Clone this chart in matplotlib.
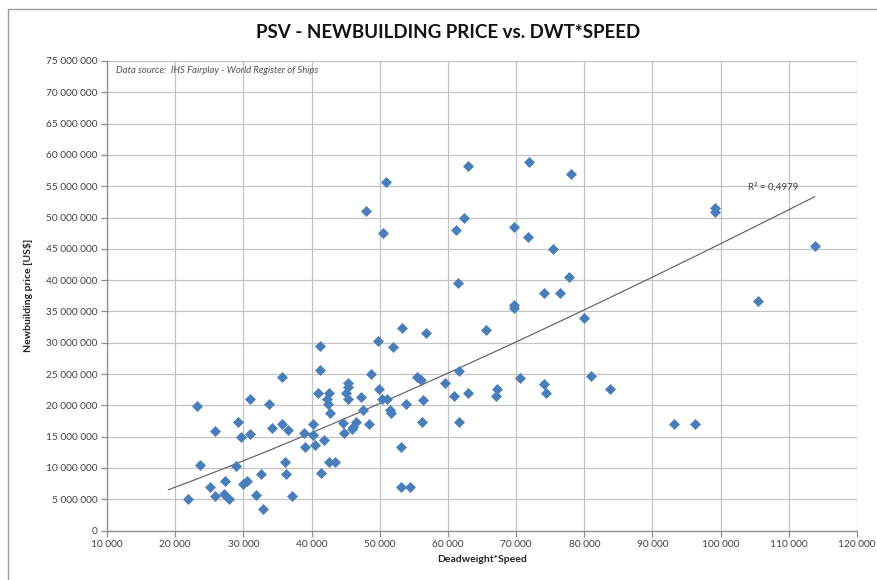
import numpy as np
import matplotlib
matplotlib.use("Agg")
import matplotlib.pyplot as plt
from matplotlib.ticker import FuncFormatter, MultipleLocator
from matplotlib.patches import Rectangle

# ---- data ----
dwt_speed = [
    23150, 23640, 21920, 25100, 25840, 25840, 27150, 27300, 27930, 28870,
    29250, 29650, 29990, 30480, 30970, 30970, 31800, 32540, 32920, 33750,
    34240, 35610, 35700, 36100, 36250, 36590, 37080, 38880, 39030, 40150,
    40230, 40500, 40990, 41230, 41230, 41330, 41850, 42210, 42550, 42450,
    42550, 42700, 43430, 44650, 44780, 44990, 45290, 45380, 45380, 45970,
    46150, 46450, 47240, 47580, 48460, 48660, 49780, 49930, 50280, 51100,
    51500, 51600, 51980, 53110, 53060, 53300, 53840, 54430, 55410, 55990,
    56140, 56380, 56780, 59560, 60930, 61660, 61660, 62980, 65570, 67040,
    67230, 62980, 50910, 47940, 62390, 61170, 50510, 61420, 71920, 78080,
    99150, 99150, 113800, 69680, 71690, 75440, 77790, 74070, 76410, 69680,
    69680, 105500, 80000, 70600, 80980, 74070, 74370, 83750, 93200, 96220,
]
price_musd = [
    19.9, 10.5, 5.0, 6.9, 5.5, 15.9, 5.8, 7.95, 5.0, 10.3,
    17.4, 15.0, 7.4, 7.95, 21.0, 15.4, 5.67, 9.0, 3.5, 20.2,
    16.4, 24.5, 17.0, 11.0, 9.0, 16.05, 5.56, 15.5, 13.4, 17.0,
    15.25, 13.65, 21.9, 29.4, 25.6, 9.2, 14.45, 21.0, 22.0, 20.2,
    10.9, 18.7, 11.0, 17.2, 15.5, 22.0, 23.5, 23.0, 21.0, 16.2,
    16.6, 17.3, 21.4, 19.25, 17.0, 25.0, 30.3, 22.6, 21.0, 21.0,
    19.25, 18.7, 29.3, 13.4, 7.0, 32.4, 20.2, 7.0, 24.5, 24.0,
    17.4, 20.85, 31.5, 23.5, 21.5, 25.5, 17.4, 22.0, 32.0, 21.5,
    22.6, 58.3, 55.6, 51.0, 50.0, 48.0, 47.6, 39.5, 58.9, 56.9,
    51.5, 50.9, 45.5, 48.5, 46.9, 45.0, 40.5, 38.0, 37.9, 36.0,
    35.5, 36.7, 33.9, 24.4, 24.7, 23.4, 21.9, 22.6, 17.0, 17.0,
]
price_usd = np.array(price_musd) * 1e6
x = np.array(dwt_speed, dtype=float)

title = "PSV - NEWBUILDING PRICE vs. DWT*SPEED"
x_label = "Deadweight*Speed"
y_label = "Newbuilding price [US$]"
source_note = "Data source:  IHS Fairplay - World Register of Ships"
r2_label = "R² = 0,4979"
trend_x_start = 19000

# ---- style ----
plt.rcParams['font.family'] = ['Lato', 'DejaVu Sans']
blue = "#4a7ebb"
grid_c = "#c3c3c3"
text_c = "#404040"

fig = plt.figure(figsize=(8.78, 5.8), dpi=100)
ax = fig.add_axes([107 / 878, (580 - 530.5) / 580, 750 / 878, 469.5 / 580])

# power trend line (least squares in log-log space, like a spreadsheet power trendline)
b, ln_a = np.polyfit(np.log(x), np.log(price_usd), 1)
tx = np.linspace(trend_x_start, x.max(), 200)
ty = np.exp(ln_a) * tx ** b
ax.plot(tx, ty, color="#5a5a5a", lw=0.8, zorder=2)

ax.plot(x, price_usd, linestyle="none", marker="D", ms=5.2,
        mfc=blue, mec=blue, mew=0.5, zorder=3)

ax.set_xlim(10000, 120000)
ax.set_ylim(0, 75e6)
ax.xaxis.set_major_locator(MultipleLocator(10000))
ax.yaxis.set_major_locator(MultipleLocator(5e6))
fmt = FuncFormatter(lambda v, p: f"{v:,.0f}".replace(",", " "))
ax.xaxis.set_major_formatter(fmt)
ax.yaxis.set_major_formatter(fmt)

ax.grid(True, color=grid_c, lw=0.9, zorder=0)
ax.set_axisbelow(True)
for s in ["top", "right"]:
    ax.spines[s].set_visible(False)
for s in ["left", "bottom"]:
    ax.spines[s].set_color("#8c8c8c")
    ax.spines[s].set_linewidth(0.9)
ax.tick_params(axis="both", colors="#8c8c8c", length=4, width=0.9,
               labelcolor=text_c, labelsize=7.3)
ax.tick_params(axis="y", pad=3)
ax.tick_params(axis="x", pad=3)

ax.set_xlabel(x_label, fontsize=7.5, fontweight="bold", color="#222222", labelpad=4)
ax.set_ylabel(y_label, fontsize=7.5, fontweight="bold", color="#222222", labelpad=9)

fig.text(448 / 878, 1 - 33 / 580, title, ha="center", va="center",
         fontsize=13.5, fontweight="bold", color="#111111")

ax.text(0.012, 0.979, source_note, transform=ax.transAxes, ha="left", va="center",
        fontsize=6.8, style="italic", color="#505050")
ax.text(104000, 54.9e6, r2_label, ha="left", va="center", fontsize=7, color=text_c)

fig.patches.append(Rectangle((8 / 878, -0.02), 1.05, 1.02 - 9 / 580,
                             transform=fig.transFigure, fill=False,
                             edgecolor="#9a9a9a", lw=1.0))

fig.savefig("out.png", dpi=100)
